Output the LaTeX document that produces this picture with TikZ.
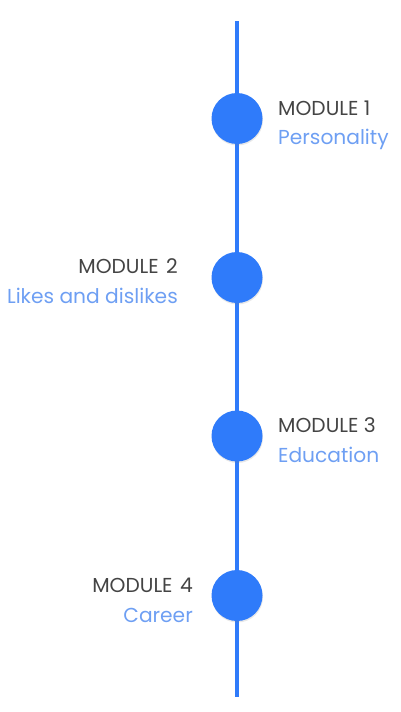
\documentclass[tikz,border=0pt]{standalone}
\usepackage{fontspec}
\setmainfont{Poppins}
\usetikzlibrary{positioning,shadows}
\definecolor{dotblue}{HTML}{2F7BFA}
\definecolor{titlegray}{HTML}{444444}
\definecolor{topicblue}{HTML}{6E9FF3}

\begin{document}
\begin{tikzpicture}[x=1pt, y=-1pt, font=\fontsize{20.2}{24}\selectfont,
	dot/.style = { circle, fill=dotblue, minimum size=51pt, inner sep=0pt,
	drop shadow={opacity=0.18, shadow xshift=0.5pt, shadow yshift=-1.5pt} },
	title/.style = { text=titlegray, inner sep=0pt },
	topic/.style = { text=topicblue, inner sep=0pt } ]

  \useasboundingbox (0,0) rectangle (400,712);

  \coordinate (top) at (237,21);
  \coordinate (bottom) at (237,697);
  \draw [dotblue, line width=4pt] (top) -- (bottom);

  \node [name=m1, dot] at (237,118.5) {};
  \node [name=m2, dot] at (237,277.5) {};
  \node [name=m3, dot] at (237,436) {};
  \node [name=m4, dot] at (237,595.5) {};

  \node [name=m1title, title, anchor=base west] at (278,115) { MODULE 1 };
  \node [name=m1topic, topic, anchor=base west] at (278,144) { Personality };

  \node [name=m2title, title, anchor=base east] at (178,273) { MODULE\hspace{7.5pt}2 };
  \node [name=m2topic, topic, anchor=base east] at (178,303) { Likes and dislikes };

  \node [name=m3title, title, anchor=base west] at (278,432) { MODULE 3 };
  \node [name=m3topic, topic, anchor=base west] at (278,462) { Education };

  \node [name=m4title, title, anchor=base east] at (193,592) { MODULE\hspace{7.5pt}4 };
  \node [name=m4topic, topic, anchor=base east] at (193,622) { Career };
\end{tikzpicture}
\end{document}
